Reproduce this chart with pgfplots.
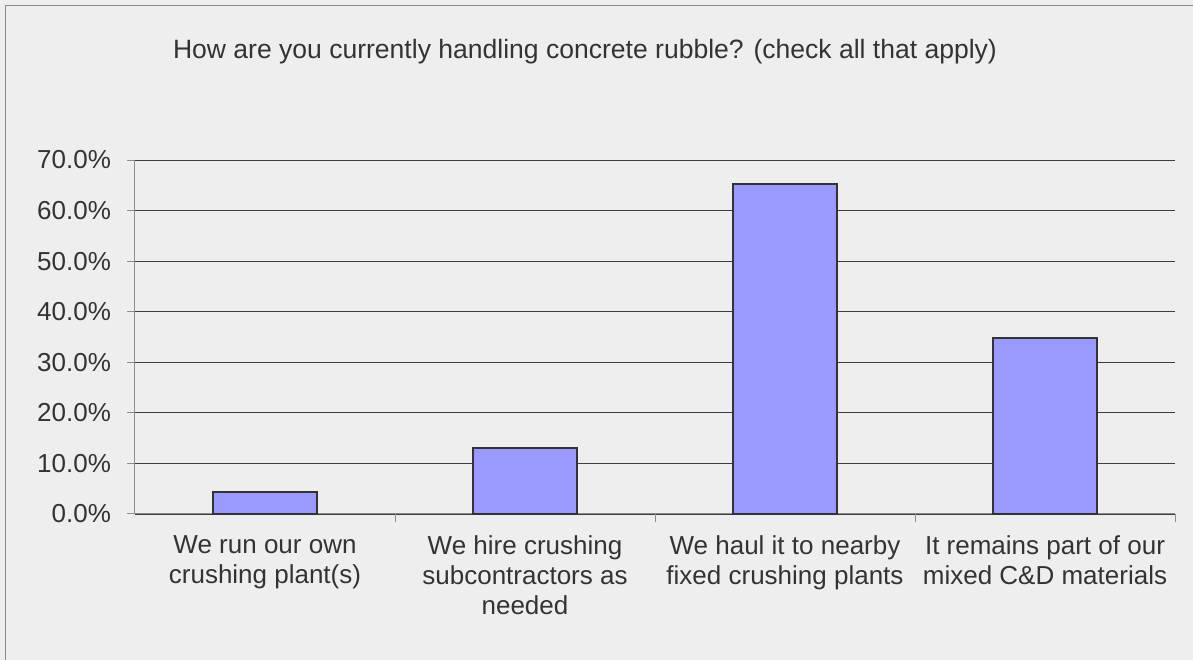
\documentclass[border=0pt]{standalone}
\usepackage{fontspec}
\setmainfont{Liberation Sans}
\usepackage{pgfplots}
\pgfplotsset{compat=1.18}
\definecolor{bg}{HTML}{EEEEEE}
\definecolor{barfill}{HTML}{9999FF}
\definecolor{txt}{HTML}{333333}
\definecolor{gridc}{HTML}{3C3C3C}
\definecolor{axc}{HTML}{8C8C8C}
\begin{document}
\begin{tikzpicture}
\useasboundingbox (0pt,0pt) rectangle (894.75pt,495pt);
\fill[bg] (0pt,0pt) rectangle (894.75pt,495pt);
\draw[axc,line width=0.75pt] (3.75pt,0pt) -- (3.75pt,490.5pt) -- (894.75pt,490.5pt);
\node[txt,font=\fontsize{19.9}{23}\selectfont,anchor=base] at (438.75pt,450.75pt) {How are you currently handling concrete rubble? (check all that apply)};
\begin{axis}[
  at={(101.25pt,109.5pt)}, anchor=origin,
  scale only axis,
  width=780pt, height=265.5pt,
  xmin=0, xmax=4, ymin=0, ymax=70,
  axis x line=bottom, axis y line=left,
  axis line style={axc,line width=0.75pt,-},
  ytick={0,10,...,70},
  yticklabels={0.0\%,10.0\%,20.0\%,30.0\%,40.0\%,50.0\%,60.0\%,70.0\%},
  ymajorgrids,
  major grid style={gridc,line width=0.6pt},
  xtick={1,2,3,4},
  xticklabels={},
  extra x ticks={0.5,1.5,2.5,3.5},
  extra x tick labels={We run our own\\crushing plant(s),We hire crushing\\subcontractors as\\needed,We haul it to nearby\\fixed crushing plants,It remains part of our\\mixed C\&D materials},
  extra x tick style={major tick length=0pt, grid=none},
  tick align=outside,
  major tick length=6pt,
  tick style={axc,line width=0.75pt},
  ticklabel style={txt,font=\fontsize{19.5}{22.5}\selectfont},
  xticklabel style={align=center, yshift=-13pt},
  yticklabel style={xshift=-8.5pt},
  /pgf/number format/assume math mode=true,
  clip=false,
]
\addplot[ybar, bar width=78pt, fill=barfill, draw=txt, line width=1.5pt]
  coordinates {(0.5,4.3) (1.5,13.0) (2.5,65.3) (3.5,34.9)};
\end{axis}
\end{tikzpicture}
\end{document}
